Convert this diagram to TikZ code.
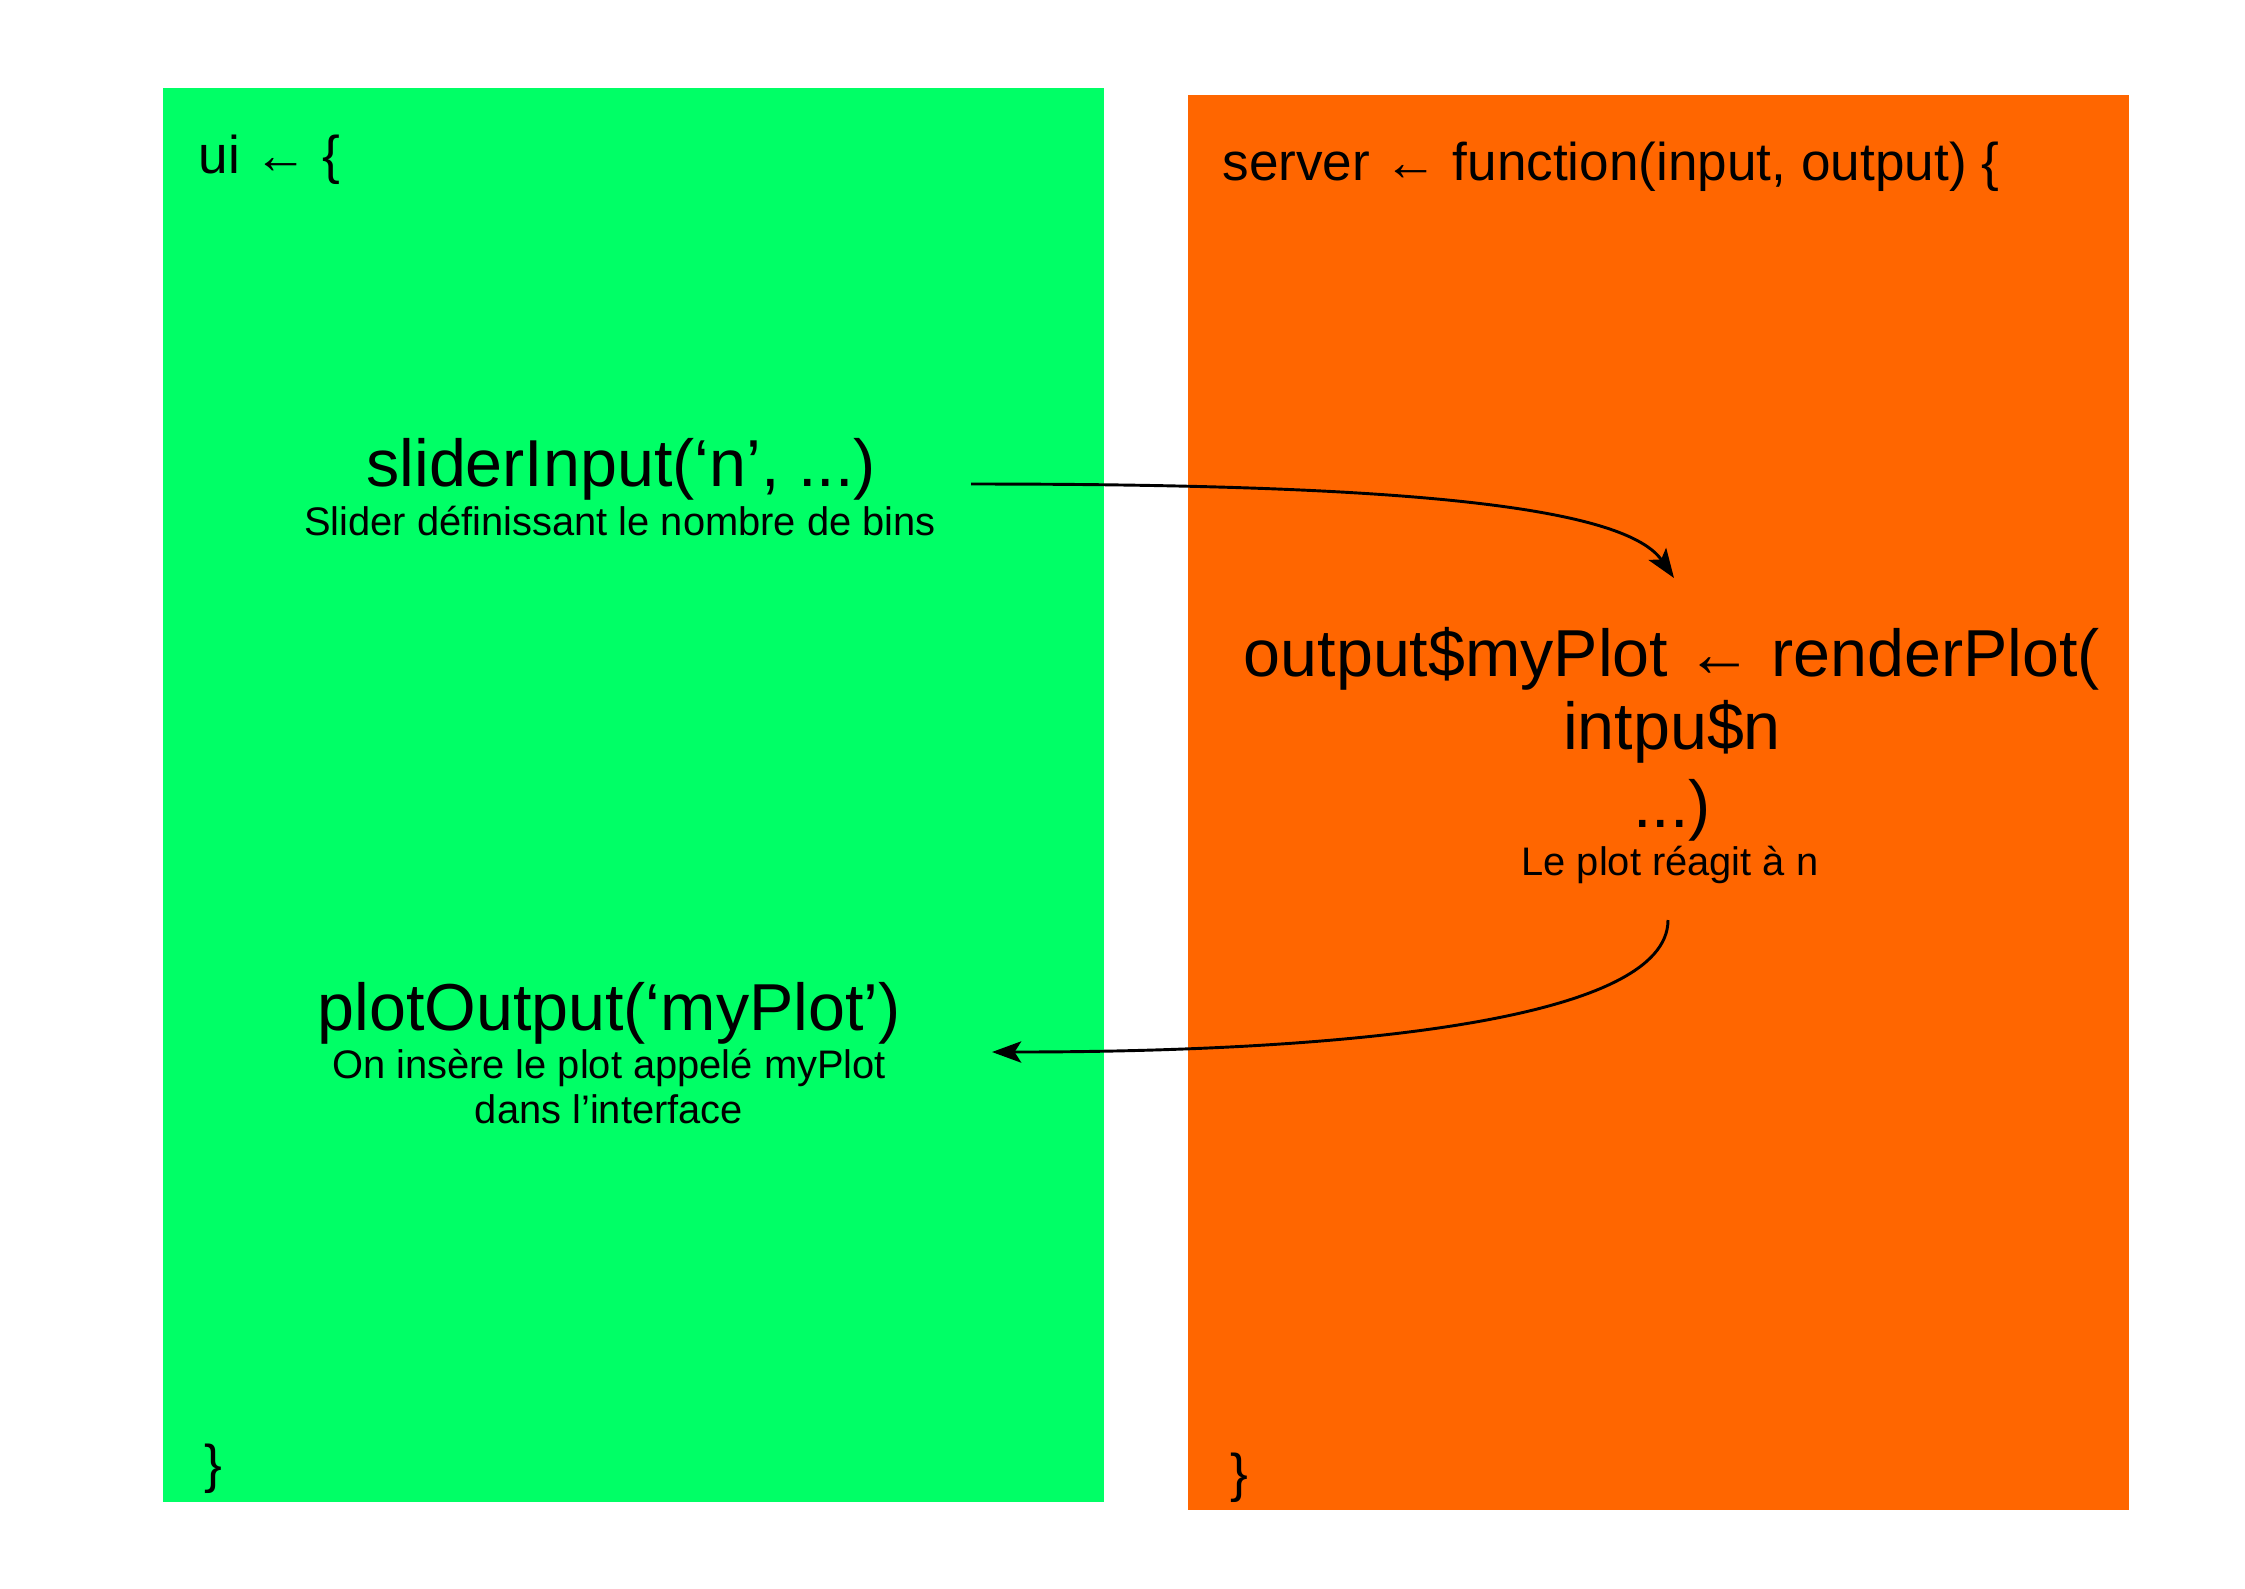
\documentclass[tikz,border=0pt]{standalone}
\usepackage{fontspec}
\setmainfont{Liberation Sans}
\usetikzlibrary{arrows.meta}
\definecolor{uigreen}{HTML}{00FF66}
\definecolor{serverorange}{HTML}{FF6600}

\begin{document}
\begin{tikzpicture}[x=0.013229cm,y=-0.013229cm,>={Stealth[length=11pt,width=8pt,inset=2.5pt]},
    code/.style={inner sep=0pt,font=\fontsize{25}{30}\selectfont,anchor=base},
    note/.style={inner sep=0pt,font=\fontsize{15}{18}\selectfont,anchor=base},
    head/.style={inner sep=0pt,font=\fontsize{20}{24}\selectfont,anchor=base west}]
    \useasboundingbox (0,0) rectangle (2245,1588);
    % Panels
    \fill[uigreen] (163,88) rectangle (1104,1502);
    \fill[serverorange] (1188,95) rectangle (2129,1510);
    % Headers
    \node[head] (uihead) at (198,173) {ui ← \{};
    \node[head] (serverhead) at (1222,180) {server ← function(input, output) \{};
    \node[head] (uiend) at (204,1482) {\}};
    \node[head] (serverend) at (1230,1491) {\}};
    % Nodes
    \node[code] (slider) at (621,486) {sliderInput(‘n’, ...)};
    \node[note] (sliderdesc) at (620,535) {Slider définissant le nombre de bins};
    \node[code] (render) at (1672,676) {output\$myPlot ← renderPlot(};
    \node[code] (renderarg) at (1672,749) {intpu\$n};
    \node[code] (renderend) at (1672,827) {...)};
    \node[note] (renderdesc) at (1670,875) {Le plot réagit à n};
    \node[code] (plotout) at (609,1030) {plotOutput(‘myPlot’)};
    \node[note] (plotdesc) at (609,1078) {On insère le plot appelé myPlot};
    \node[note] (plotdescb) at (609,1123) {dans l’interface};
    \coordinate (sliderout) at (971,484);
    \coordinate (renderin) at (1674,578);
    \coordinate (renderout) at (1668,920);
    \coordinate (plotin) at (992,1052);
    % Arrows
    \draw[->,line width=1.1pt] (sliderout) .. controls (1350,484) and (1620,500) .. (renderin);
    \draw[->,line width=1.1pt] (renderout) .. controls (1668,1020) and (1350,1052) .. (plotin);
\end{tikzpicture}
\end{document}
